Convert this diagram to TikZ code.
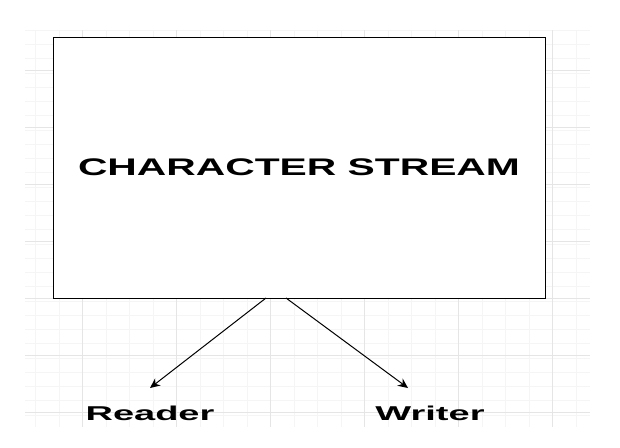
\documentclass[tikz,border=0pt]{standalone}
\usepackage{fontspec}
\usetikzlibrary{arrows.meta}
\setmainfont{Liberation Sans}
\begin{document}
\begin{tikzpicture}[x=1pt,y=-1pt,
  lbl/.style={font=\bfseries\fontsize{20}{24}\selectfont,xscale=1.9},
  arr/.style={-{Stealth[length=10pt,width=9pt]},line width=1pt}]
\useasboundingbox (0,0) rectangle (620,447);
\fill[white] (0,0) rectangle (620,447);
\foreach \x in {35.5,59,82.5,106,...,590} \draw[black!4] (\x,30) -- (\x,427);
\foreach \y in {30,44.25,...,427} \draw[black!4] (25,\y) -- (590,\y);
\foreach \x in {82,176,270,364,458,552} \draw[black!10] (\x,30) -- (\x,427);
\foreach \y in {70,127,184,241,298,355,412} \draw[black!10] (25,\y) -- (590,\y);
\node[draw,line width=1pt,fill=white,minimum width=492pt,minimum height=261pt] (cs) at (299,167.5) {};
\node[font=\bfseries\fontsize{24}{28}\selectfont,xscale=1.7] (t) at (cs.center) {CHARACTER STREAM};
\coordinate (s1) at (266,298);
\coordinate (s2) at (286,298);
\node[lbl] (r) at (150,413) {Reader};
\node[lbl] (w) at (430,413) {Writer};
\coordinate (e1) at (150,388);
\coordinate (e2) at (408,388);
\draw[arr] (s1) -- (e1);
\draw[arr] (s2) -- (e2);
\end{tikzpicture}
\end{document}
